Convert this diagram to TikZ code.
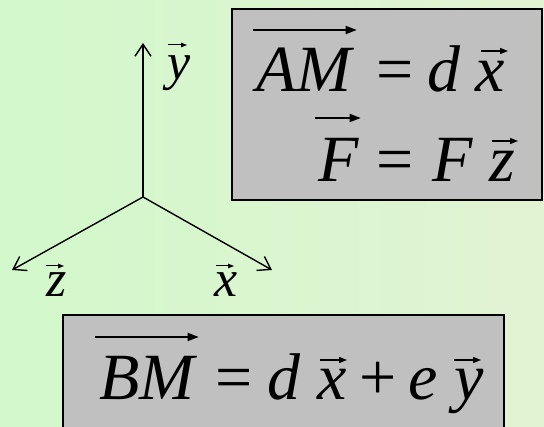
\documentclass[tikz,border=0pt]{standalone}
\usepackage{fontspec}
\setmainfont{Liberation Serif}
\usetikzlibrary{arrows.meta,calc}
\definecolor{bgL}{RGB}{210,248,203}
\definecolor{bgR}{RGB}{226,243,211}
\definecolor{boxgray}{RGB}{192,192,192}
\begin{document}
\begin{tikzpicture}[x=1pt,y=-1pt,
  big/.style={inner sep=0pt, anchor=base west, font=\fontsize{66}{72}\selectfont},
  lab/.style={inner sep=0pt, anchor=base west, font=\fontsize{52}{58}\selectfont\itshape},
  boxnode/.style={draw=black, line width=1.6pt, fill=boxgray, inner sep=0pt},
  axis/.style={line width=1.4pt, -{Straight Barb[length=12pt,width=16pt,line width=1.4pt]}},
  overarrow/.style={line width=1.7pt, -{Triangle[length=11pt,width=8pt]}},
  bvec/.style={line width=1.3pt, -{Triangle[length=8pt,width=6pt]}},
  lvec/.style={line width=1pt, -{Triangle[length=6pt,width=4.5pt]}}
]
\clip (0,0) rectangle (544,427);
\useasboundingbox (0,0) rectangle (544,427);
\shade[left color=bgL, right color=bgR] (0,0) rectangle (544,427);

% boxes
\node[boxnode, minimum width=310pt, minimum height=191pt] (topbox) at (387,104.5) {};
\node[boxnode, minimum width=441pt, minimum height=130pt] (botbox) at (283.5,380) {};

% axes
\coordinate (O) at (143,197);
\coordinate (ytip) at (143,43);
\coordinate (ztip) at (12,270);
\coordinate (xtip) at (272,270);
\draw[axis] (O) -- (ytip);
\draw[axis] (O) -- (ztip);
\draw[axis] (O) -- (xtip);

% axis labels
\node[lab] (ly) at (167,80) {y};
\node[lab] (lz) at (46,297) {z};
\node[lab] (lx) at (214,297) {x};
\draw[lvec] ([xshift=1pt,yshift=35pt]ly.base west) -- ++(19,0);
\draw[lvec] ([xshift=0pt,yshift=31pt]lz.base west) -- ++(18,0);
\draw[lvec] ([xshift=2pt,yshift=31pt]lx.base west) -- ++(18,0);

% line 1
\node[big] (AM) at (256,92) {\itshape AM};
\node[big] (eq1) at (376,92) {=};
\node[big] (d1) at (427,92) {\itshape d};
\node[big] (x1) at (475,92) {\itshape x};
\draw[overarrow] ([xshift=-3pt,yshift=62pt]AM.base west) -- ([xshift=5pt,yshift=62pt]AM.base east);
\draw[bvec] ([xshift=6pt,yshift=41pt]x1.base west) -- ++(27,0);

% line 2
\node[big] (F1) at (318,182) {\itshape F};
\node[big] (eq2) at (376,182) {=};
\node[big] (F2) at (432,182) {\itshape F};
\node[big] (z2) at (489,182) {\itshape z};
\draw[overarrow] ([xshift=-3pt,yshift=64pt]F1.base west) -- ([xshift=2pt,yshift=64pt]F1.base east);
\draw[bvec] ([xshift=3pt,yshift=41pt]z2.base west) -- ++(26,0);

% line 3
\node[big] (BM) at (99,400) {\itshape BM};
\node[big] (eq3) at (215,400) {=};
\node[big] (d3) at (267,400) {\itshape d};
\node[big] (x3) at (317,400) {\itshape x};
\node[big] (plus) at (359,400) {+};
\node[big] (e3) at (408,400) {\itshape e};
\node[big] (y3) at (454,400) {\itshape y};
\draw[overarrow] ([xshift=-4pt,yshift=63pt]BM.base west) -- ([xshift=4pt,yshift=63pt]BM.base east);
\draw[bvec] ([xshift=3pt,yshift=40pt]x3.base west) -- ++(27,0);
\draw[bvec] ([xshift=0pt,yshift=40pt]y3.base west) -- ++(27,0);
\end{tikzpicture}
\end{document}
